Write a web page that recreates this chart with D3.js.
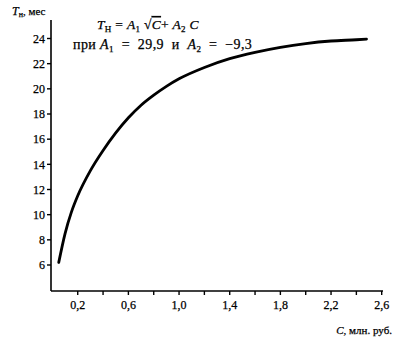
<!DOCTYPE html>
<html>
<head>
<meta charset="utf-8">
<script src="https://cdn.jsdelivr.net/npm/d3@7"></script>
<style>
  body { margin: 0; background: #fff; }
  svg { display: block; font-family: "Liberation Serif", "DejaVu Serif", serif; }
  text { fill: #000; stroke: #000; stroke-width: 0.25; white-space: pre; }
</style>
</head>
<body>
<svg id="chart" width="400" height="341"></svg>
<script>
// values
var costC = [0.05, 0.1, 0.15, 0.2, 0.3, 0.4, 0.5, 0.6, 0.7, 0.8, 0.9, 1.0, 1.2, 1.4, 1.6, 1.8, 2.0, 2.2, 2.4, 2.48];
var periodT = [6.2, 8.5, 10.2, 11.5, 13.5, 15.1, 16.5, 17.7, 18.7, 19.5, 20.2, 20.8, 21.7, 22.4, 22.9, 23.3, 23.6, 23.8, 23.9, 23.95];
var xTicks = [0.2, 0.4, 0.6, 0.8, 1.0, 1.2, 1.4, 1.6, 1.8, 2.0, 2.2, 2.4, 2.6];
var xLabels = [0.2, 0.6, 1.0, 1.4, 1.8, 2.2, 2.6];
var yTicks = [6, 8, 10, 12, 14, 16, 18, 20, 22, 24];

var svg = d3.select("#chart");

var x = d3.scaleLinear().domain([0, 2.6]).range([52.4, 381.7]);
var y = d3.scaleLinear().domain([6, 24]).range([265, 38.5]);

var fmt = function(d) { return d3.format(".1f")(d).replace(".", ","); };
var nb = "\u00a0";

// axes lines
var axisY = 291, axisX = 51;
svg.append("line")
  .attr("x1", axisX).attr("y1", 20)
  .attr("x2", axisX).attr("y2", axisY)
  .attr("stroke", "#000").attr("stroke-width", 1.6);
svg.append("line")
  .attr("x1", axisX).attr("y1", axisY)
  .attr("x2", 383).attr("y2", axisY)
  .attr("stroke", "#000").attr("stroke-width", 1.6);

// x ticks
svg.selectAll(".xt").data(xTicks).enter().append("line")
  .attr("x1", d => x(d)).attr("x2", d => x(d))
  .attr("y1", axisY).attr("y2", axisY + 4)
  .attr("stroke", "#000").attr("stroke-width", 1.4);
svg.selectAll(".xl").data(xLabels).enter().append("text")
  .attr("x", d => x(d)).attr("y", axisY + 18)
  .attr("text-anchor", "middle")
  .attr("font-size", 12)
  .text(fmt);

// y ticks
svg.selectAll(".yt").data(yTicks).enter().append("line")
  .attr("x1", axisX - 4).attr("x2", axisX)
  .attr("y1", d => y(d)).attr("y2", d => y(d))
  .attr("stroke", "#000").attr("stroke-width", 1.4);
svg.selectAll(".yl").data(yTicks).enter().append("text")
  .attr("x", axisX - 6).attr("y", d => y(d))
  .attr("dy", "0.35em")
  .attr("text-anchor", "end")
  .attr("font-size", 12)
  .text(d => d);

// curve
var line = d3.line()
  .x(d => x(d[0]))
  .y(d => y(d[1]))
  .curve(d3.curveMonotoneX);
svg.append("path")
  .attr("fill", "none")
  .attr("stroke", "#000")
  .attr("stroke-width", 2.8)
  .attr("stroke-linecap", "round")
  .attr("d", line(costC.map((c, i) => [c, periodT[i]])));

// y axis title
var yt = svg.append("text").attr("x", 12).attr("y", 15).attr("font-size", 11);
yt.append("tspan").attr("font-style", "italic").attr("font-size", 12).text("T");
yt.append("tspan").attr("font-size", 8).attr("dy", 2).text("н");
yt.append("tspan").attr("dy", -2).text(", мес");

// x axis title
var xt = svg.append("text").attr("x", 392).attr("y", 334).attr("text-anchor", "end").attr("font-size", 11);
xt.append("tspan").attr("font-style", "italic").text("C");
xt.append("tspan").text(", млн. руб.");

// formula
var f1 = svg.append("text").attr("x", 97).attr("y", 29).attr("font-size", 13.5)
  .attr("letter-spacing", 0.3);
f1.append("tspan").attr("font-style", "italic").text("T");
f1.append("tspan").attr("font-size", 9).attr("dy", 3).text("H");
f1.append("tspan").attr("dy", -3).text(nb + "=" + nb);
f1.append("tspan").attr("font-style", "italic").text("A");
f1.append("tspan").attr("font-size", 9).attr("dy", 3).text("1");
f1.append("tspan").attr("dy", -3).text(nb + "√");
f1.append("tspan").attr("font-style", "italic").style("text-decoration", "overline").text("C");
f1.append("tspan").text("+" + nb);
f1.append("tspan").attr("font-style", "italic").text("A");
f1.append("tspan").attr("font-size", 9).attr("dy", 3).text("2");
f1.append("tspan").attr("dy", -3).attr("font-style", "italic").text(nb + "C");

var f2 = svg.append("text").attr("x", 73).attr("y", 49).attr("font-size", 14)
  .attr("letter-spacing", 0.4);
f2.append("tspan").text("при" + nb);
f2.append("tspan").attr("font-style", "italic").text("A");
f2.append("tspan").attr("font-size", 9).attr("dy", 3).text("1");
f2.append("tspan").attr("dy", -3).text(nb + nb + "=" + nb + nb + "29,9" + nb + nb + "и" + nb + nb);
f2.append("tspan").attr("font-style", "italic").text("A");
f2.append("tspan").attr("font-size", 9).attr("dy", 3).text("2");
f2.append("tspan").attr("dy", -3).text(nb + nb + "=" + nb + nb + "−9,3");
</script>
</body>
</html>
